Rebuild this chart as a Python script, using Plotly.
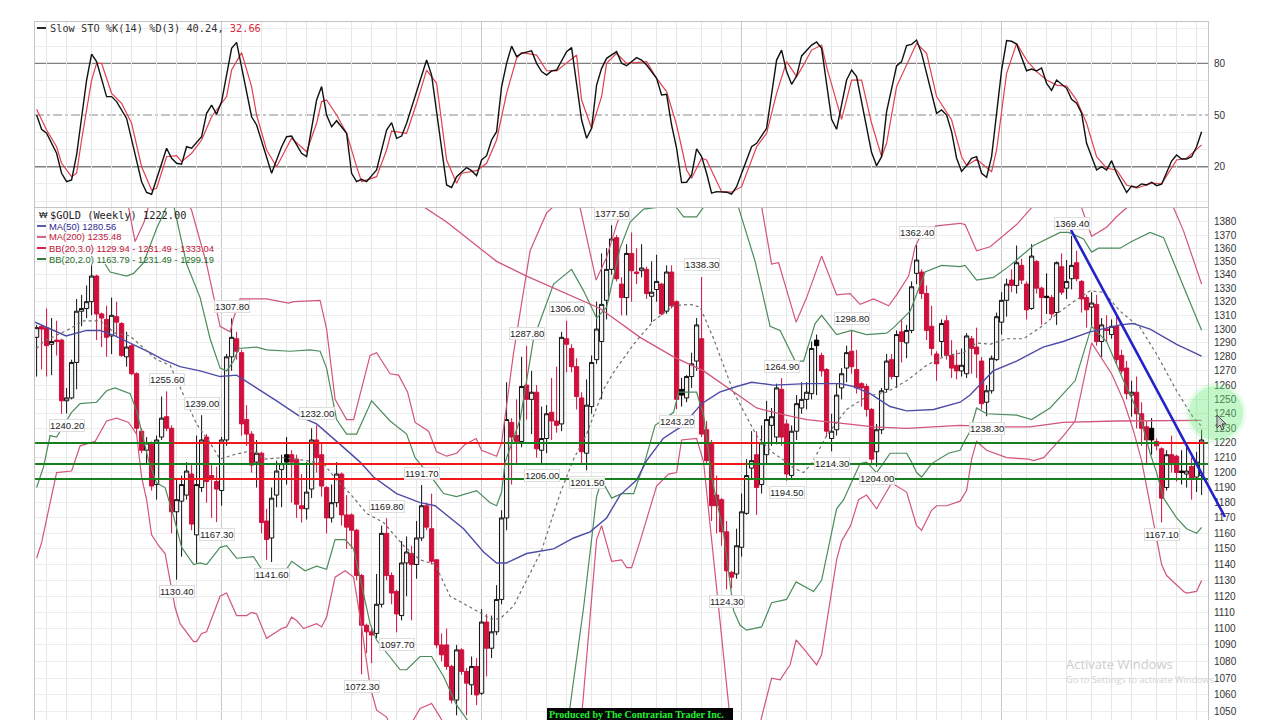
import math
import plotly.graph_objects as go

# ---------- candles (weekly bars, index 0..233) ----------
opens = [1294,1302,1301,1289,1292,1292,1249,1251,1276,1313,1315,1320,1339,1311,1307,1295,1309,1304,1280,1288,
1268,1228,1215,1219,1192,1224,1238,1230,1174,1181,1185,1199,1159,1190,1224,1198,1194,1188,1222,1280,
1293,1283,1236,1226,1207,1213,1168,1157,1185,1202,1212,1212,1209,1178,1176,1189,1222,1212,1190,1170,
1180,1199,1172,1172,1162,1133,1102,1098,1097,1115,1160,1133,1123,1108,1141,1147,1140,1157,1178,1163,
1143,1090,1090,1077,1057,1087,1074,1066,1077,1061,1104,1088,1098,1118,1170,1234,1225,1221,1260,1250,
1255,1215,1223,1241,1235,1233,1293,1286,1273,1251,1213,1245,1278,1291,1321,1344,1368,1333,1323,1356,
1342,1343,1344,1324,1329,1333,1313,1342,1320,1257,1251,1266,1277,1293,1229,1220,1185,1182,1161,1135,
1134,1151,1173,1203,1212,1192,1212,1232,1224,1257,1233,1198,1228,1244,1250,1254,1292,1281,1271,1223,
1229,1258,1272,1284,1271,1261,1259,1243,1214,1229,1257,1278,1266,1298,1290,1299,1341,1342,1326,1302,
1282,1291,1306,1281,1274,1270,1268,1293,1287,1277,1248,1256,1278,1305,1321,1336,1332,1347,1333,1315,
1350,1330,1324,1323,1312,1346,1330,1337,1349,1335,1323,1316,1318,1291,1300,1296,1302,1281,1272,1253,
1255,1240,1231,1230,1221,1216,1190,1212,1211,1201,1199,1204,1197,1198]
highs = [1303,1303,1315,1308,1306,1293,1258,1278,1322,1325,1332,1347,1340,1312,1317,1323,1320,1305,1298,1289,
1269,1230,1224,1221,1225,1252,1255.6,1232,1196,1198,1207,1205,1225,1239,1226,1205,1204,1224,1282,1307.8,
1298,1285,1246,1228,1222,1214,1176,1190,1208,1212,1224,1215,1212,1199,1207,1230,1232,1220,1191,1192,
1207,1200,1185,1173,1163,1134,1103,1100,1134,1165,1169.8,1135,1124,1155,1158,1152,1168,1191.7,1180,1186,
1143.5,1097,1100,1078,1090,1088,1076,1083,1082,1112,1109,1108,1127,1175,1262,1237,1250,1280,1287.8,1270,
1260,1245,1246,1265,1273,1298,1306,1289,1279,1255,1264,1281,1320,1356,1360,1377.5,1370,1338,1363,1372,
1360,1363,1346,1350,1355,1334,1347,1347,1321,1265,1267,1283,1308,1338.3,1235,1222,1198,1183,1168,1136,
1163,1186,1209,1228,1228,1232,1249,1244,1261,1264.9,1236,1232,1253,1262,1262,1291,1296,1283,1272,1240,
1261,1272,1288,1298.8,1285,1262,1261,1244,1233,1258,1282,1282,1299,1307,1303,1335,1362.4,1344,1332,1317,
1284,1307,1310,1292,1285,1286,1297,1295,1301,1280,1260,1281,1312,1327,1337,1344,1362,1352,1335,1363,
1351,1331,1341,1325,1350,1356,1351,1369.4,1358,1336,1325,1327,1325,1308,1310,1307,1311,1285,1277,1263,
1266,1248,1235,1237,1223,1217,1215,1225,1212,1215,1218,1210,1214,1229]
lows = [1266,1271,1266,1267,1281,1240,1240.2,1250,1257,1302,1308,1310,1292,1287,1280,1282,1295,1280,1273,1267,
1225,1213,1205,1188,1182,1222,1228,1160,1130.4,1145,1182,1162,1141,1187,1180,1170,1167.3,1178,1218,1270,
1278,1225,1218,1200,1190,1160,1143,1141.6,1177,1177,1192,1180,1170,1167,1169,1183,1200,1184,1160,1167,
1177,1165,1150,1150,1130,1072.3,1085,1079,1094,1113,1130,1115,1097.7,1105,1120,1105,1131,1155,1162,1140,
1088,1080,1075,1055,1048,1072,1048,1060,1054,1060,1071,1082,1096,1115,1162,1192,1205,1217,1236,1226,
1210,1206,1213,1222,1227,1228,1269,1269,1243,1205,1201.5,1240,1275,1250,1307,1340,1335,1310,1310,1320,
1333,1338,1322,1305,1320,1310,1311,1315,1243.2,1245,1248,1258,1270,1224,1205,1168,1160,1152,1124.3,1125,
1131,1145,1172,1195,1172,1186,1205,1218,1219,1218,1194.5,1196,1222,1240,1243,1250,1253,1266,1224,1214.3,
1225,1250,1262,1268,1254,1245,1238,1205,1204,1226,1255,1264,1258,1276,1279,1297,1333,1322,1292,1281,
1263,1280,1278,1265,1264,1266,1265,1268,1265,1243,1238.3,1254,1277,1296,1309,1327,1326,1333,1307,1314,
1326,1303,1311,1308,1303,1325,1322,1329,1335,1312,1301,1302,1288,1280,1291,1293,1275,1268,1250,1238,
1230,1218,1205,1212,1215,1167.1,1188,1200,1194,1192,1190,1182,1187,1185]
closes = [1301,1300,1288,1291,1291,1249,1251,1276,1313,1315,1320,1339,1311,1308,1294,1310,1305,1281,1287,1268,
1230,1215,1220,1191,1222,1237,1230,1174,1182,1192,1201,1166,1192,1222,1194,1196,1189,1222,1280,1294,
1284,1233,1226,1205,1213,1167,1156,1183,1201,1206,1207,1207,1179,1176,1187,1222,1210,1191,1170,1180,
1199,1172,1164,1162,1133,1102,1098,1096,1115,1160,1133,1122,1109,1141,1148,1140,1157,1178,1164,1142,
1090,1084,1077,1057,1087,1074,1067,1077,1060,1104,1088,1098,1118,1170,1236,1224,1221,1259,1250,1255,
1216,1223,1240,1235,1232,1294,1289,1273,1252,1214,1246,1276,1300,1318,1344,1367,1337,1323,1356,1343,
1341,1345,1326,1327,1335,1311,1342,1317,1250,1253,1266,1275,1303,1226,1208,1178,1178,1161,1136,1132,
1152,1174,1198,1208,1190,1220,1236,1238,1258,1224,1199,1228,1247,1250,1255,1286,1288,1270,1228,1228,
1253,1268,1283,1273,1258,1258,1243,1209,1229,1256,1277,1266,1296,1291,1299,1331,1351,1326,1299,1286,
1275,1304,1281,1272,1270,1274,1295,1286,1282,1247,1256,1279,1309,1321,1333,1332,1349,1336,1314,1354,
1330,1323,1323,1311,1349,1327,1335,1347,1337,1322,1314,1319,1291,1303,1299,1302,1278,1270,1254,1255,
1240,1230,1222,1222,1218,1183,1212,1206,1200,1200,1201,1196,1207,1222]
black_filled_bars = [50,129,156,202,223,229]

# ---------- overlays read at breakpoints (bar index, price) ----------
ma50_bars = [-0.3,2.7,5.9,10,12.7,15.7,19.3,22.7,25.3,28.7,32.7,36.7,40,44,48,52.7,56,60.7,64.7,67.4,72,76.7,79.7,85.4,89.4,92,94,98,103.4,107.4,110.7,114,116.7,120,122,125.3,129.3,133,136.6,140,143,147.4,154,160.7,163.4,166.7,170.7,174,179.4,184.7,186.7,191.3,196,201.3,205.3,210.7,216.7,219.3,222.7,228,233]
ma50_vals = [1305,1300,1295,1299,1299,1295,1289,1283,1278,1273,1270,1266,1267,1258,1249,1238,1233,1219,1207,1197,1186,1180,1178,1163,1148,1141,1141,1147,1150,1157,1161,1170,1185,1195,1208,1223,1232,1247,1255,1259,1262,1260,1261,1261,1259,1254,1245,1242,1243,1248,1253,1270,1277,1287,1291,1298,1303,1304,1300,1289,1280.56]
ma200_bars = [76,77.7,82,86,92,98,104,112.7,120.7,127.4,133.4,139.4,144,148.7,154,159.4,167.4,174,184.7,192.7,198.7,205.3,216,233]
ma200_vals = [1400,1391,1380,1368,1350,1339,1329,1315,1294,1280,1270,1255,1244,1240,1236,1234,1231,1230,1232,1231,1231,1234,1235,1235.48]
bb3_up_bars = [17,19.7,21.5,23,27,31,34,36.7,38.7,39.4,40.7,46,50.4,51.4,56.7,58,59.7,62,63.4,66.7,68,70.7,72.4,74.2,75.7,78.4,80,82,84,85.7,87.9,89,92,93,95.4,98.7,102,103.4,106,108.7,111.9,114,116,118,124,135,142,145,147,148.4,151.9,154,157,160,162.7,164.7,167.4,170.4,172,174.4,175.7,177.4,180,184.7,185.7,188,190.7,196,199,202,206,209,211,214,216,218,222,227.4,229.4,231.7,233]
bb3_up_vals = [1420,1365,1380,1400,1420,1389,1348,1302,1298,1308,1322,1322,1319,1320,1321,1300,1250,1236,1236,1281,1283,1268,1267,1255,1234,1228,1214,1211,1213,1219,1223,1215,1211,1220,1283,1358,1387,1392,1420,1391,1336,1353,1378,1400,1450,1500,1440,1392,1348,1349,1305,1323,1354,1325,1326,1318,1322,1317,1325,1339,1361,1374,1377,1379,1378,1358,1361,1378,1391,1420,1420,1391,1369,1376,1384,1391,1410,1391,1373,1348,1333.04]
bb3_lo_bars = [0,1,4,7,8.7,11.7,14,16,18.4,20,21,22,23,24.4,25.7,27.7,28.7,31.4,32,33,34,36.7,38,40,42,43,44,46,49,50,51,52,53.4,56,57,58,59.7,61.7,63.4,65,66.7,68,70,71,74.7,76.7,79,80.7,84,105,109,112,113,115,117,118,119,120.7,124,126.4,128,129,132,133.4,138.7,142,145,147,148.7,150.7,151.9,153.9,156,157,160,161,162.8,164.4,166,168,171,174,176,177,179,180,182,184.7,186,187,188,190,194,198.4,199.4,201.4,205.4,207.7,211,215,217.4,219.4,221,223.4,225,226,229.4,230,232,233]
bb3_lo_vals = [1144,1154,1200,1201,1218,1221,1235,1237,1234,1226,1197,1182,1159,1152,1147,1113,1103,1092,1092,1097,1098,1120,1122,1108,1108,1110,1109,1094,1100,1101,1107,1105,1100,1103,1101,1107,1132,1136,1132,1101,1065,1051,1047,1040,1042,1052,1055,1047,1030,1020,1047,1156,1165,1142,1143,1138,1138,1155,1191,1199,1200,1222,1223,1207,1046,1000,1047,1070,1069,1078,1093,1086,1078,1084,1143,1155,1165,1182,1185,1176,1193,1187,1165,1162,1175,1178,1178,1181,1188,1209,1221,1215,1210,1209,1208,1210,1225,1235,1290,1268,1249,1228,1208,1167,1140,1133,1123,1122,1123,1129.94]
bb2_up_bars = [13.7,14.7,18,19.4,21.4,24,27,30,32.7,34.7,36.7,38,39.4,40.4,44,46,50.7,54.7,56.7,58,60,62,64,67,70.7,74,75.7,79.4,81.4,84,88,90.7,92,93,93.7,96.7,99.4,103.4,107,109.4,112,114,116.7,118.7,121.4,123.7,125.4,127,128,129.4,132,133.4,135,138,140.4,143.7,146.7,148.7,151.7,153.4,155.7,157,160,163,166,170,171.4,174.7,177.7,181,184.7,185.7,188,191.4,194.7,199.4,204.7,206.4,209.4,211,212.4,216.7,219,222.7,225.4,229.4,233]
bb2_up_vals = [1348,1342,1339,1341,1349,1375,1400,1348,1323,1293,1272,1270,1277,1286,1287,1285,1284,1285,1284,1272,1236,1226,1226,1249,1235,1226,1210,1195,1186,1184,1188,1180,1178,1187,1207,1236,1293,1333,1344,1328,1308,1316,1360,1380,1390,1391,1393,1395,1391,1384,1384,1391,1400,1410,1391,1350,1302,1299,1277,1277,1304,1310,1296,1299,1296,1297,1301,1313,1342,1347,1346,1347,1336,1338,1347,1362,1372,1372,1367,1357,1360,1360,1365,1372,1368,1331,1299.19]
bb2_lo_bars = [0,1.4,2.7,4,7,8.7,12,14,15.7,18.7,20,21.7,22.4,24,25.7,27.4,29,31.4,32.7,34,36.7,38,40,43.4,45,48,50,51,53.7,56,58,59.7,61.7,63.4,65,66.7,68,70.7,72.7,74,76.7,79,81.4,84,86,90,100,106.4,109.4,112,113,115,117,119.4,121.7,123.7,127.4,128.4,132,133.4,135,137.4,139.4,140.7,142,145,147,150,151.9,155.4,157,160,161.4,163.4,164.7,166,168,169.7,170.7,174,175,176,177,179,182.4,184.7,185.4,186.7,188,190,196,199,202.7,207.7,211,214,217.4,220.7,222.7,224,225.4,228,230,232,233]
bb2_lo_vals = [1190,1204,1225,1224,1241,1247,1248,1256,1258,1254,1242,1219,1208,1193,1190,1171,1151,1140,1141,1140,1151,1152,1144,1145,1137,1137,1137,1142,1136,1139,1137,1156,1156,1150,1127,1103,1093,1083,1075,1075,1083,1083,1071,1054,1046,1030,1000,1047,1113,1184,1195,1183,1186,1186,1208,1232,1241,1255,1255,1239,1197,1160,1111,1102,1099,1101,1116,1118,1129,1123,1130,1176,1182,1197,1206,1207,1200,1208,1213,1213,1207,1200,1197,1206,1213,1215,1220,1228,1244,1240,1239,1236,1244,1263,1302,1291,1263,1238,1213,1200,1183,1170,1163,1160,1163.79]
sma20_bars = [0,1.4,6,9.4,12.7,15.7,18.7,21.4,24,26.7,28.7,32,34.7,36.7,39.4,43.4,45.4,49.4,54,57.4,60,62.7,66,69.4,73.4,76.7,79.7,82.7,87.4,90.7,92.7,95.4,98,101,104.7,107.4,110,113.4,115.4,119.4,123.4,127.4,130.7,132.7,135.4,139.4,144,147,150,151.4,153.4,155,158,162,166,170,174,178,182,185.4,188,190.7,194,197.4,200.7,204,207.4,210.7,213.4,216.7,220.7,224,228,231.4,233]
sma20_vals = [1286,1291,1299,1306,1306,1297,1295,1286,1278,1274,1258,1233,1220,1209,1212,1215,1209,1210,1208,1206,1195,1186,1173,1167,1152,1143,1140,1120,1112,1106,1106,1114,1130,1149,1186,1209,1226,1257,1269,1289,1306,1317,1318,1316,1293,1255,1225,1214,1207,1203,1200,1206,1225,1243,1252,1255,1263,1274,1281,1283,1290,1289,1293,1293,1301,1311,1320,1328,1327,1313,1301,1282,1256,1237,1231.49]

# ---------- stochastic ----------
k_bars = [0,1,2,4,5,6,7,8,10,11,12,14,15,16,18,21,22,23,26,27,28,29,30,31,33,34,35,36,37,39,40,43,44,47,49,50,51,53,54,56,57,58,59,60,62,63,64,65,66,68,70,71,72,73,74,77,78,79,80,82,83,84,86,87,88,89,90,91,92,93,94,95,96,97,99,100,101,102,103,104,106,107,109,110,111,112,113,114,116,117,118,120,121,122,124,125,126,127,128,129,130,131,132,133,134,135,136,138,139,140,143,144,146,148,149,150,151,152,153,155,156,157,159,160,162,163,164,167,168,169,170,172,173,174,175,176,177,179,180,181,182,183,184,185,186,187,188,189,190,191,193,194,195,196,198,199,200,201,202,203,204,206,207,208,209,210,211,212,213,214,215,216,218,219,220,221,222,223,224,225,227,228,229,230,231,232,233]
k_vals = [50,41.7,39.4,27.8,16.2,11.3,12.3,26.8,70.3,85.4,81,60.7,60.7,57.8,48,11.3,5,4,30.7,24.9,22,21.4,31.6,30.7,37.4,51,55.8,50.4,57.8,88.7,92.2,49,44.2,16.2,31.6,37.4,37.8,27.8,25.9,58.7,66.5,50,43.2,46.7,39.4,16.2,11.3,12.7,11.3,18.1,41.3,45.6,36.5,37.8,45.2,73.2,81.9,73.2,51,9.4,7.9,14.2,19.5,17.7,14.8,23.9,26.4,35.5,40.3,66.5,80,90,83.9,85.8,87.2,80,75.2,73.2,75.6,76.1,86.8,89.1,47.1,36.5,42.3,67.4,77.1,82.9,86.8,80,78.6,83.3,81.9,79,71.3,61.6,62,44.2,30.7,10.8,11,15.2,30.3,25.9,16.2,4.6,5.5,5.2,4,8.4,31.6,33.6,42.3,81.9,87.7,75.2,67.8,72.6,84.3,90.6,92.4,88.7,47.5,41.7,70.3,76.1,72.3,28.2,20.6,25.8,52,78.5,81,90.3,91,93.5,85.8,61.6,51,52.9,50,40.3,24.9,17.3,20.6,24.9,25.8,16.2,13.9,25.8,76.1,93.2,92.8,91.2,75.7,76.7,75.6,77.3,68.4,64.3,70.3,65.5,59.1,56.8,51,33.6,25.8,18.1,20,18.1,23.5,16.2,5,8.8,8,10,9.4,11,9,9.8,23.3,26.8,24.5,24.5,25.8,31.6,40.24]
d_bars = [0,2,4,5,7,8,9,11,12,13,15,17,19,21,23,24,26,28,29,31,33,35,38,39,41,43,44,46,48,49,51,54,56,57,58,60,62,64,65,68,70,71,74,76,78,80,82,84,85,88,90,92,94,96,97,100,102,104,108,109,111,113,114,116,118,122,124,126,128,130,131,133,134,137,139,141,144,146,148,150,152,153,155,157,158,161,163,165,167,169,170,172,175,176,178,180,183,185,186,188,191,192,194,196,198,200,202,204,206,208,210,212,214,216,218,220,223,225,228,230,233]
d_vals = [53.3,41.3,31.6,22,14.2,16.2,35.5,70.3,80,80,62.6,56.8,45.2,20,6.5,7.5,25.8,26.4,22.9,27.8,35.5,49,60.7,76.1,86.2,66.5,50,29.7,20,25.8,36.5,28.7,45.2,57.8,58.7,50,39.4,20,11.3,14.2,29.7,40.7,39.4,56.8,76.1,68.4,23.9,10.4,16.2,17.7,22,35.5,62.6,82.9,86.2,84.8,75.7,75.6,84.8,58.7,42.3,60.7,80,85.8,80,81,71.3,63.6,44.2,18.1,13.3,24.9,23.9,5.5,5.2,8.4,31.6,39.4,62.6,81,72.3,77.1,87.7,90.6,78,47.5,70.3,70.3,45.2,25.8,33.6,66.5,85.8,91.6,85.8,60.7,47.1,25.8,20.6,24.3,17.1,29.7,74.2,91.6,81.9,75.2,70.3,67.4,66.8,58.7,45.2,25.8,19.1,18.1,9.4,7.5,10.4,10,23.9,24.9,32.66]

# ---------- drawn levels ----------
level_prices = [1220.0, 1205.8, 1195.7]
green_runs = [[[-0.3,234.3]],[[-0.3,234.3]],[[-0.3,234.3]]]
red_runs = [[[27.3,93.7],[135,144.7],[224.3,233.7]],[[55.3,93.7],[135,141.8]],[[27.3,93.7],[135,141.8]]]

# ---------- peak / trough labels ----------
label_bars = [6,26,28,33,36,39,47,56,65,70,72,77,98,101,106,110,115,128,133,138,149,150,159,163,168,176,190,207,225]
label_texts = ["1240.20","1255.60","1130.40","1239.00","1167.30","1307.80","1141.60","1232.00","1072.30","1169.80","1097.70","1191.70","1287.80","1206.00","1306.00","1201.50","1377.50","1243.20","1338.30","1124.30","1264.90","1194.50","1214.30","1298.80","1204.00","1362.40","1238.30","1369.40","1167.10"]
label_above = [0,1,0,1,0,1,0,1,0,1,0,1,1,0,1,0,1,0,1,0,1,0,0,1,0,1,0,1,0]

price_ticks = list(range(1050, 1390, 10))
year_bars = [37,89,141,193]
month_bars = [2,6,11,15,19,24,28,32,41,45,50,54,58,63,67,72,76,80,85,93,98,102,106,111,115,119,124,128,133,137,146,150,154,159,163,167,172,176,180,185,189,198,202,206,211,215,219,224,228,232]

PINK = "#d2557a"; GREEN = "#4b8c5c"; BLUE = "#4c4ca8"; CRIM = "#d0103c"
W, H = 1280, 720
px = lambda x: x / W
py = lambda y: 1 - y / H
XR = [-0.32, 234.28]
mono = "DejaVu Sans Mono"; sans = "Liberation Sans"

fig = go.Figure()

solid = set(black_filled_bars)
bars = list(range(len(opens)))
fig.add_trace(go.Candlestick(
    x=bars,
    open=[None if i in solid else v for i, v in enumerate(opens)],
    high=[None if i in solid else v for i, v in enumerate(highs)],
    low=[None if i in solid else v for i, v in enumerate(lows)],
    close=[None if i in solid else v for i, v in enumerate(closes)],
    increasing=dict(line=dict(color="#111111", width=1), fillcolor="#f2f2f2"),
    decreasing=dict(line=dict(color=CRIM, width=1), fillcolor=CRIM),
    whiskerwidth=0, hoverinfo="skip", showlegend=False))
fig.add_trace(go.Candlestick(
    x=black_filled_bars,
    open=[opens[i] for i in black_filled_bars], high=[highs[i] for i in black_filled_bars],
    low=[lows[i] for i in black_filled_bars], close=[closes[i] for i in black_filled_bars],
    increasing=dict(line=dict(color="#000000", width=1), fillcolor="#000000"),
    decreasing=dict(line=dict(color="#000000", width=1), fillcolor="#000000"),
    whiskerwidth=0, hoverinfo="skip", showlegend=False))

def line(x, y, color, width=1.2, dash="solid", xa="x", ya="y"):
    fig.add_trace(go.Scatter(x=x, y=y, mode="lines", xaxis=xa, yaxis=ya, showlegend=False,
                             hoverinfo="skip", line=dict(color=color, width=width, dash=dash)))

line(bb3_up_bars, bb3_up_vals, PINK)
line(bb3_lo_bars, bb3_lo_vals, PINK)
line(bb2_up_bars, bb2_up_vals, GREEN)
line(bb2_lo_bars, bb2_lo_vals, GREEN)
line(ma200_bars, ma200_vals, PINK, 1.3)
line(ma50_bars, ma50_vals, BLUE, 1.4)
line(sma20_bars, sma20_vals, "#6f6f6f", 1.2, "dot")

for p, runs in zip(level_prices, green_runs):
    for a, b in runs:
        line([a, b], [p, p], "#17801c", 2)
for p, runs in zip(level_prices, red_runs):
    for a, b in runs:
        line([a, b], [p, p], "#f01818", 2)

line(d_bars, d_vals, "#e0404f", 1.2, xa="x2", ya="y2")
line(k_bars, k_vals, "#111111", 1.4, xa="x2", ya="y2")

def xax(domain_anchor):
    return dict(domain=[px(35), px(1208)], range=XR, anchor=domain_anchor, showticklabels=False, ticks="",
                tickmode="array", tickvals=year_bars, showgrid=True, gridcolor="#c9c9c9", gridwidth=1, zeroline=False,
                minor=dict(tickmode="array", tickvals=month_bars, showgrid=True, gridcolor="#e6e6e6", gridwidth=1, ticks=""),
                showline=True, linecolor="#c4c4c4", mirror=True)

fig.update_layout(
    width=W, height=H, margin=dict(l=0, r=0, t=0, b=0), paper_bgcolor="white", plot_bgcolor="white",
    boxmode="overlay", boxgap=0.08, boxgroupgap=0.08, hovermode=False, showlegend=False,
    xaxis=dict(xax("y"), rangeslider=dict(visible=False)),
    xaxis2=xax("y2"), xaxis3=xax("y3"),
    yaxis=dict(domain=[py(720), py(208)], type="log", range=[math.log10(1045.3), math.log10(1390.8)], side="right", anchor="x",
               tickmode="array", tickvals=price_ticks, ticktext=[str(t) for t in price_ticks], ticks="outside", ticklen=3, tickcolor="white",
               tickfont=dict(family=sans, size=10, color="#333333"), showgrid=True, gridcolor="#ececec", zeroline=False,
               showline=True, linecolor="#c4c4c4", mirror=True),
    yaxis2=dict(domain=[py(207), py(22)], range=[-3.4, 104], side="right", anchor="x2",
                tickmode="array", tickvals=[20,50,80], ticktext=["20","50","80"], ticks="outside", ticklen=3, tickcolor="white",
                tickfont=dict(family=sans, size=10, color="#333333"), showgrid=False, zeroline=False,
                minor=dict(tickmode="array", tickvals=[0,10,30,40,60,70,90,100], showgrid=True, gridcolor="#ececec", ticks=""),
                showline=True, linecolor="#c4c4c4", mirror=True),
    yaxis3=dict(domain=[py(21), 1], range=[0, 1], side="right", anchor="x3", showticklabels=False, ticks="",
                tickmode="array", tickvals=[0.35], showgrid=True, gridcolor="#ececec", zeroline=False,
                showline=False),
)

shapes = []
for v, c, d, w in [(80, "#7f7f7f", "solid", 1.4), (20, "#7f7f7f", "solid", 1.4), (50, "#8a8a8a", "dashdot", 1.2)]:
    shapes.append(dict(type="line", xref="x2 domain", yref="y2", x0=0, x1=1, y0=v, y1=v, line=dict(color=c, width=w, dash=d), layer="below"))
# hand-drawn trend line runs past the plot edge, so it is placed on the page
shapes.append(dict(type="line", xref="paper", yref="paper", x0=px(1071), y0=py(230), x1=px(1225), y1=py(517), line=dict(color="#2222c8", width=2.6)))
# legend swatches
for y, c in [(28, "#111111"), (226, BLUE), (237, PINK), (248, CRIM), (259, "#1f6f2a")]:
    shapes.append(dict(type="line", xref="paper", yref="paper", x0=px(37), x1=px(46), y0=py(y), y1=py(y), line=dict(color=c, width=1.8)))
# banner
shapes.append(dict(type="rect", xref="paper", yref="paper", x0=px(547), x1=px(733), y0=py(708), y1=py(720), fillcolor="#050505", line=dict(width=0)))
# mouse highlight and pointer
shapes.append(dict(type="circle", xref="paper", yref="paper", x0=px(1186), x1=px(1246), y0=py(383), y1=py(443), fillcolor="rgba(110,235,125,0.16)", line=dict(width=0)))
shapes.append(dict(type="circle", xref="paper", yref="paper", x0=px(1189), x1=px(1243), y0=py(386), y1=py(440), fillcolor="rgba(110,235,125,0.30)", line=dict(width=0)))
cursor = [(1217,415),(1217,428),(1220,425),(1222,430),(1224,429),(1222,424),(1226,424)]
path = "M " + " L ".join(f"{px(a):.5f} {py(b):.5f}" for a, b in cursor) + " Z"
shapes.append(dict(type="path", xref="paper", yref="paper", path=path, fillcolor="#c8d0c8", line=dict(color="#444444", width=1)))
fig.update_layout(shapes=shapes)

ann = []
for b, t, up in zip(label_bars, label_texts, label_above):
    ann.append(dict(x=b, y=math.log10(float(t)), xref="x", yref="y", text=t, showarrow=False, xanchor="center", yanchor="middle",
                    yshift=12 if up else -12, bgcolor="rgba(255,255,255,0.9)", bordercolor="#dddddd", borderwidth=1, borderpad=0,
                    font=dict(family=sans, size=9.5, color="#222222")))

def page_text(x, y, html, fam, size, color, anchor="left"):
    ann.append(dict(x=px(x), y=py(y), xref="paper", yref="paper", text=html, showarrow=False, xanchor=anchor, yanchor="middle",
                    font=dict(family=fam, size=size, color=color)))

page_text(48, 28, 'Slow STO %K(14) %D(3) 40.24, <span style="color:#d8283c">32.66</span>', mono, 10.3, "#333333")
page_text(48, 215, "$GOLD (Weekly) 1222.00", mono, 10.3, "#222222")
page_text(37, 215, "\u20a9", sans, 9, "#111111")
page_text(47, 226, "MA(50) 1280.56", sans, 9.4, "#2a2a90")
page_text(47, 237, "MA(200) 1235.48", sans, 9.4, "#c02040")
page_text(47, 248, "BB(20,3.0) 1129.94 - 1231.49 - 1333.04", sans, 9.4, "#c01238")
page_text(47, 259, "BB(20,2.0) 1163.79 - 1231.49 - 1299.19", sans, 9.4, "#1f6f2a")
page_text(636, 714, "<b>Produced by The Contrarian Trader Inc.</b>", "Liberation Serif", 10, "#22ee33", "center")
page_text(1064, 664, "Activate Windows", "Open Sans", 13, "#cdcdcd")
page_text(1064, 679, "Go to Settings to activate Windows", "Open Sans", 9.2, "#d2d2d2")
fig.update_layout(annotations=ann)

fig.write_html("out.html", config={"displayModeBar": False},
               post_script="document.body.style.margin='0';document.documentElement.style.overflow='hidden';")
